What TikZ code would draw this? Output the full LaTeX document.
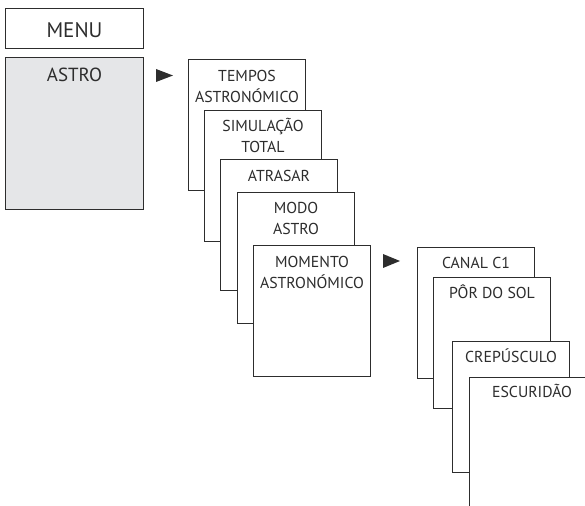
\documentclass[tikz,border=0pt]{standalone}
\usepackage{fontspec}
\setmainfont{PT Sans}
\usetikzlibrary{shapes,arrows}
\definecolor{panelgray}{RGB}{229,230,232}
\definecolor{inkgray}{RGB}{45,45,45}

\begin{document}
\begin{tikzpicture}[x=0.02cm,y=-0.02cm]
	\tikzstyle{menu box} = [draw=inkgray, line width=0.6pt, fill=white, anchor=north west, inner sep=0pt, minimum width=2.34cm, minimum height=2.62cm]
	\tikzstyle{box text} = [anchor=base, align=center, inner sep=0pt, text=inkgray, font=\fontsize{9}{12}\selectfont]
	\tikzstyle{pointer} = [fill=inkgray]

	\useasboundingbox (0,0) rectangle (585,506);
	\clip (0,0) rectangle (585,506);

	\node[menu box, minimum width=2.76cm, minimum height=0.8cm] (menu) at (5,8) {};
	\node[box text, font=\fontsize{12}{14}\selectfont] (menu text) at ([yshift=-0.18cm]menu.center) {MENU};

	\node[menu box, fill=panelgray, minimum width=2.76cm, minimum height=3.04cm] (astro) at (5,57) {};
	\node[box text, font=\fontsize{10.8}{13}\selectfont] (astro text) at ([yshift=-0.5cm]astro.north) {ASTRO};

	\fill[pointer] (156,69) -- (173,75.5) -- (156,82) -- cycle;

	% base of two-line texts sits on the last line
	\node[menu box] (tempos) at (188,59) {};
	\node[box text] (tempos text) at ([yshift=-0.88cm]tempos.north) {TEMPOS\\ASTRONÓMICO};

	\node[menu box] (simulacao) at (204,110) {};
	\node[box text] (simulacao text) at ([yshift=-0.86cm]simulacao.north) {SIMULAÇÃO\\TOTAL};

	\node[menu box] (atrasar) at (220,159) {};
	\node[box text] (atrasar text) at ([yshift=-0.46cm]atrasar.north) {ATRASAR};

	\node[menu box] (modo) at (237,192) {};
	\node[box text] (modo text) at ([yshift=-0.86cm]modo.north) {MODO\\ASTRO};

	\node[menu box] (momento) at (253,245) {};
	\node[box text] (momento text) at ([yshift=-0.87cm]momento.north) {MOMENTO\\ASTRONÓMICO};

	\fill[pointer] (383,254) -- (400,261) -- (383,268) -- cycle;

	\node[menu box] (canal) at (417,247) {};
	\node[box text] (canal text) at ([yshift=-0.44cm]canal.north) {CANAL C1};

	\node[menu box] (por do sol) at (433,277) {};
	\node[box text] (por do sol text) at ([yshift=-0.44cm]por do sol.north) {PÔR DO SOL};

	\node[menu box] (crepusculo) at (452,341) {};
	\node[box text] (crepusculo text) at ([yshift=-0.44cm]crepusculo.north) {CREPÚSCULO};

	\node[menu box, minimum width=2.5cm, minimum height=2.8cm] (escuridao) at (469,377) {};
	\node[box text] (escuridao text) at ([yshift=-0.42cm]escuridao.north) {ESCURIDÃO};
\end{tikzpicture}
\end{document}
